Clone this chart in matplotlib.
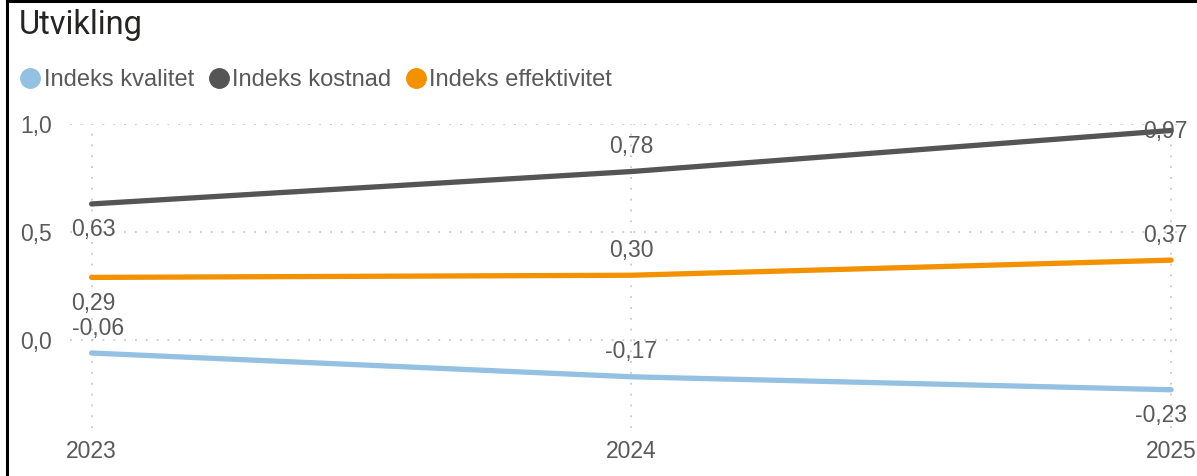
import matplotlib
matplotlib.use('Agg')
import matplotlib.pyplot as plt
from matplotlib.lines import Line2D

years = [2023, 2024, 2025]
series_names = ['Indeks kvalitet', 'Indeks kostnad', 'Indeks effektivitet']
kvalitet = [-0.06, -0.17, -0.23]
kostnad = [0.63, 0.78, 0.97]
effektivitet = [0.29, 0.30, 0.37]
yticks = [0.0, 0.5, 1.0]

colors = ['#94C1E2', '#555555', '#F29200']
# label placement per point: 'a' above, 'b' below, 'c' on the point
label_pos = [['a', 'a', 'b'], ['b', 'a', 'c'], ['b', 'a', 'a']]

TEXT = '#595959'
plt.rcParams['font.family'] = ['Liberation Sans', 'DejaVu Sans']

fig = plt.figure(figsize=(11.97, 4.76), dpi=100)
ax = fig.add_axes([70 / 1197, 1 - 428 / 476, (1183 - 70) / 1197, (428 - 124) / 476])

for name, vals, col, pos in zip(series_names, [kvalitet, kostnad, effektivitet], colors, label_pos):
    ax.plot(years, vals, color=col, lw=3.8, solid_capstyle='round', zorder=3)
    for i, (x, y) in enumerate(zip(years, vals)):
        dy = {'a': 25, 'b': -26, 'c': -1}[pos[i]]
        if i == 0:
            ha, dx = 'left', -20
        elif i == len(years) - 1:
            ha, dx = 'right', 16
        else:
            ha, dx = 'center', 0
        ax.annotate(f'{y:.2f}'.replace('.', ','), (x, y), xytext=(dx, dy),
                    textcoords='offset pixels', ha=ha, va='center',
                    fontsize=16.5, color=TEXT, zorder=4)

ax.set_xlim(2022.96, 2025.022)
ax.set_ylim(-0.407, 1.0)
ax.set_xticks(years)
ax.set_xticklabels([str(y) for y in years])
ax.set_yticks(yticks)
ax.set_yticklabels([f'{v:.1f}'.replace('.', ',') for v in yticks])
ax.tick_params(length=0, labelsize=16.5, labelcolor=TEXT)
ax.tick_params(axis='y', pad=13)
ax.tick_params(axis='x', pad=9)
ax.grid(True, color='#C8C8C8', lw=1.3, linestyle=(0, (1, 5)))
for s in ax.spines.values():
    s.set_visible(False)

fig.text(19 / 1197, 1 - 25 / 476, 'Utvikling', fontsize=23.5, family='Roboto',
         color='#252423', va='center', ha='left')

handles = [Line2D([], [], marker='o', linestyle='none', markersize=14,
                  markerfacecolor=c, markeredgecolor=c) for c in colors]
fig.legend(handles, series_names, loc='center left', bbox_to_anchor=(23 / 1197, 1 - 80 / 476),
           ncol=3, frameon=False, fontsize=17, labelcolor=TEXT,
           handlelength=0.6, handletextpad=0.27, columnspacing=0.75, borderaxespad=0, borderpad=0)

# black frame on top and left edge
fig.add_artist(Line2D([6.5 / 1197, 6.5 / 1197], [0, 1], color='black', lw=2.2, transform=fig.transFigure))
fig.add_artist(Line2D([6.5 / 1197, 1], [1 - 1 / 476, 1 - 1 / 476], color='black', lw=2.2, transform=fig.transFigure))

fig.savefig('out.png', dpi=100)
